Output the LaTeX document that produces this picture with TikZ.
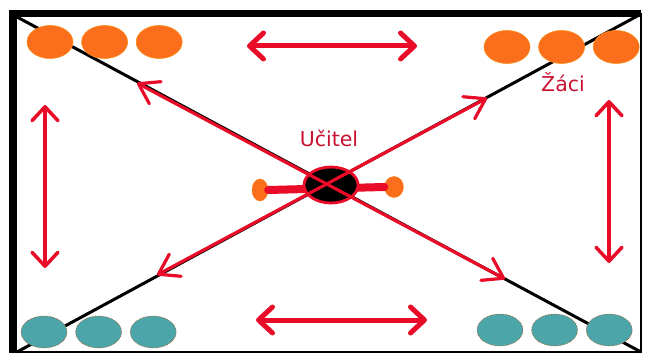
\documentclass[tikz,border=0pt]{standalone}
\usepackage{fontspec}
\newfontfamily\labelfont{DejaVu Sans}
\usepackage{xcolor}
\usetikzlibrary{arrows.meta, positioning, shapes.geometric}

\definecolor{arrowred}{RGB}{232,12,40}
\definecolor{labelred}{RGB}{200,18,48}
\definecolor{pupilorange}{RGB}{250,110,28}
\definecolor{pupilteal}{RGB}{76,165,168}

\tikzset{
  orangepupil/.style={ellipse, fill=pupilorange, draw=pupilorange!80!yellow, line width=0.6pt,
    minimum width=46pt, minimum height=33pt, inner sep=0pt},
  tealpupil/.style={ellipse, fill=pupilteal, draw=pupilorange!70!black, densely dotted, line width=0.6pt,
    minimum width=46pt, minimum height=32pt, inner sep=0pt},
  armblob/.style={ellipse, fill=pupilorange, draw=pupilorange!85!yellow, inner sep=0pt},
  move/.style={arrowred, line width=#1, line cap=round,
    {Straight Barb[round, length=14pt, width=26pt]}-{Straight Barb[round, length=14pt, width=26pt]}},
  diagmove/.style={arrowred, line width=3.2pt, line cap=round,
    {Straight Barb[round, length=19pt, width=25pt]}-{Straight Barb[round, length=19pt, width=25pt]}},
  label/.style={font=\labelfont\fontsize{20.5}{22}\selectfont, text=labelred, anchor=base, inner sep=0pt}
}

\begin{document}
\begin{tikzpicture}[x=1pt, y=-1pt, node distance=8pt]
  \useasboundingbox (0,0) rectangle (645,355);
  \fill[white] (0,0) rectangle (645,355);

  % frame of the playground
  \coordinate (tl) at (17,17);
  \coordinate (tr) at (641,14);
  \coordinate (bl) at (17,352);
  \coordinate (br) at (641,352);
  \draw[line width=2pt] (9,352) -- (641,352) -- (641,13);
  \draw[line width=7pt] (9,13.5) -- (641,13.5);
  \draw[line width=8pt] (13,10) -- (13,353);

  % diagonals
  \draw[line width=3pt] (tl) -- (br);
  \draw[line width=3pt] (bl) -- (tr);

  % teacher
  \node[armblob, minimum width=16pt, minimum height=22pt] (armL) at (260,190) {};
  \node[armblob, minimum width=19pt, minimum height=21pt] (armR) at (394,187) {};
  \draw[arrowred, line width=8pt, line cap=round] (armL.east) -- (armR.west);
  \node[ellipse, fill=black, draw=arrowred, line width=2.8pt, minimum width=54pt, minimum height=36pt, inner sep=0pt] (teacher) at (331,185) {};
  \node[label] (ucitel) at (329,146.5) {Učitel};

  % running directions
  \coordinate (ul) at (137,83);
  \coordinate (lr) at (505,279);
  \coordinate (ll) at (157,275);
  \coordinate (ur) at (487,98);
  \draw[diagmove] (ul) -- (lr);
  \draw[diagmove] (ll) -- (ur);

  \coordinate (topA) at (247,46);
  \coordinate (topB) at (417,46);
  \coordinate (botA) at (256,320);
  \coordinate (botB) at (427,320);
  \coordinate (leftA) at (45,105);
  \coordinate (leftB) at (45,268);
  \coordinate (rightA) at (609,100);
  \coordinate (rightB) at (609,263);
  \draw[move=5pt] (topA) -- (topB);
  \draw[move=5pt] (botA) -- (botB);
  \draw[move=3.5pt] (leftA) -- (leftB);
  \draw[move=3.5pt] (rightA) -- (rightB);

  % pupils
  \node[orangepupil] (ol1) at (50,42) {};
  \node[orangepupil, right=of ol1] (ol2) {};
  \node[orangepupil, right=of ol2] (ol3) {};
  \node[orangepupil] (or1) at (507,47) {};
  \node[orangepupil, right=of or1] (or2) {};
  \node[orangepupil, right=of or2] (or3) {};
  \node[tealpupil] (tl1) at (44,332) {};
  \node[tealpupil, right=of tl1] (tl2) {};
  \node[tealpupil, right=of tl2] (tl3) {};
  \node[tealpupil] (tr1) at (500,330) {};
  \node[tealpupil, right=of tr1] (tr2) {};
  \node[tealpupil, right=of tr2] (tr3) {};
  \node[label] (zaci) at (563,92) {Žáci};
\end{tikzpicture}
\end{document}
